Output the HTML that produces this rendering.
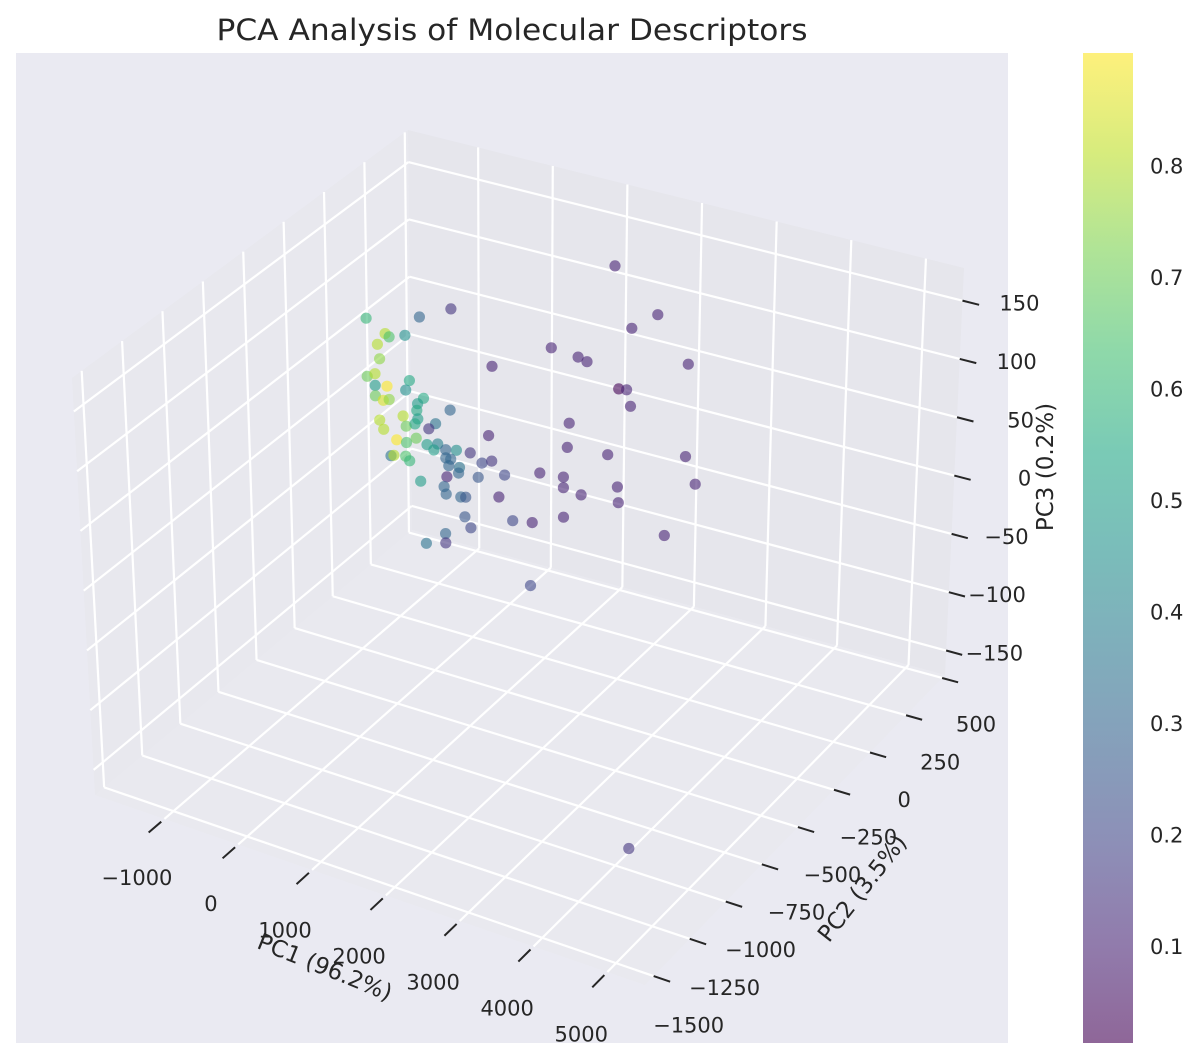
<!DOCTYPE html>
<html><head><meta charset="utf-8"><style>
html,body{margin:0;padding:0;background:#fff;}
svg{display:block;font-family:"DejaVu Sans","Liberation Sans",sans-serif;}
</style></head><body>
<svg id="chart" width="1200" height="1061" viewBox="0 0 1200 1061" xmlns="http://www.w3.org/2000/svg">
<rect x="0" y="0" width="1200" height="1061" fill="#ffffff"/>
<rect x="16" y="53" width="992" height="990" fill="#eaeaf2"/>
<text x="512" y="40" text-anchor="middle" font-size="29" fill="#262626" textLength="591" lengthAdjust="spacingAndGlyphs">PCA Analysis of Molecular Descriptors</text>
<g id="panes"></g>
<g id="grid"></g>
<g id="ticks"></g>
<g id="points"></g>
<g id="cbar"></g>
<text x="325" y="975" text-anchor="middle" font-size="23" fill="#262626" transform="rotate(22 325 967)">PC1 (96.2%)</text>
<text x="862" y="896" text-anchor="middle" font-size="23" fill="#262626" transform="rotate(-52 862 888)">PC2 (3.5%)</text>
<text x="1045" y="475" text-anchor="middle" font-size="23" fill="#262626" transform="rotate(-90 1045 467)">PC3 (0.2%)</text>
</svg>
<script>
const pc1Values = [-1404,-680,-252,-1149,-1096,-881,-1257,-1230,-1404,-1297,-1297,-1136,-828,-881,-1297,-1190,-1109,-640,-721,-278,-734,-721,-1243,-922,-881,-761,-479,-573,-1190,-1015,-881,-747,-600,-453,-506,-345,-198,-10,244,-1096,-1056,-895,-841,-345,-278,150,284,-158,-305,-171,-332,97,459,-694,-372,-345,-144,-77,378,-91,-10,-359,-627,-359,566,834,807,941,1263,1263,1504,1263,1316,1343,298,1102,1464,1584,1866,2000,2013,2013,2120,2174,2187,2536,2951,2924,3058,2643,1959,2174];
const pc2Values = [0,0,0,0,0,0,0,0,0,0,0,0,0,0,0,0,0,0,0,0,0,0,0,0,0,0,0,0,0,0,0,0,0,0,0,0,0,0,0,0,0,0,0,0,0,0,0,0,0,0,0,0,0,0,0,0,0,0,0,0,0,0,0,0,0,0,0,0,0,0,0,0,0,0,0,0,0,0,0,0,0,0,0,0,0,0,0,0,0,0,0,0];
const pc3Values = [78,91,105,69,67,72,58,46,28,32,22,24,34,25,13,11,13,22,16,18,10,3,-7,2,-6,-2,3,-3,-14,-20,-20,-14,-17,-14,-20,-17,-15,-14,5,-35,-34,-32,-35,-24,-24,-20,-16,-29,-30,-34,-40,-33,-25,-50,-49,-55,-54,-53,-45,-70,-78,-89,-102,-97,-62,-59,-113,-15,-13,-22,-24,-47,13,34,65,94,92,90,16,-9,-22,74,75,62,128,145,110,32,11,-39,177,-311];
const colorValues = [0.6,0.3,0.15,0.8,0.65,0.45,0.8,0.75,0.7,0.8,0.5,0.9,0.55,0.45,0.7,0.85,0.75,0.55,0.5,0.3,0.55,0.5,0.8,0.8,0.7,0.55,0.35,0.15,0.8,0.9,0.65,0.7,0.5,0.4,0.5,0.3,0.45,0.15,0.1,0.35,0.8,0.65,0.6,0.3,0.3,0.2,0.15,0.35,0.3,0.3,0.1,0.25,0.2,0.5,0.3,0.3,0.3,0.25,0.1,0.25,0.2,0.3,0.35,0.15,0.2,0.1,0.2,0.1,0.1,0.1,0.1,0.1,0.1,0.1,0.1,0.1,0.1,0.1,0.1,0.1,0.1,0.02,0.1,0.1,0.1,0.1,0.1,0.1,0.1,0.1,0.1,0.15];
const pc1Ticks = [-1000,0,1000,2000,3000,4000,5000];
const pc2Ticks = [500,250,0,-250,-500,-750,-1000,-1250,-1500];
const pc3Ticks = [150,100,50,0,-50,-100,-150];
const cbarTicks = [0.1,0.2,0.3,0.4,0.5,0.6,0.7,0.8];
const pc1Range = [-1940,5510];
const pc2Range = [-1560,520];
const pc3Range = [-171,178];
const colorRange = [0.013,0.901];

const NS='http://www.w3.org/2000/svg';
const C={'000':[408,130],'100':[964,268],'010':[72,378],'110':[628,520],
         '001':[412,530],'101':[945,675],'011':[95,795],'111':[645,985]};
function tri(u,v,w){
  let x=0,y=0;
  for(const a of [0,1])for(const b of [0,1])for(const c of [0,1]){
    const k=(a?u:1-u)*(b?v:1-v)*(c?w:1-w);const p=C[''+a+b+c];x+=k*p[0];y+=k*p[1];}
  return [x,y];
}
function uOf(p1){return (p1-pc1Range[0])/(pc1Range[1]-pc1Range[0]);}
function vOf(p2){return (pc2Range[1]-p2)/(pc2Range[1]-pc2Range[0]);}
function wOf(p3){return (pc3Range[1]-p3)/(pc3Range[1]-pc3Range[0]);}
function proj(p1,p2,p3){return tri(uOf(p1),vOf(p2),wOf(p3));}

const VIR=[[68,1,84],[72,36,117],[65,68,135],[53,95,141],[42,120,142],[33,145,140],[34,168,132],[68,191,112],[122,209,81],[189,223,38],[253,231,37]];
function viridis(t){t=Math.max(0,Math.min(1,t));const s=t*10;const i=Math.min(9,Math.floor(s));const f=s-i;
  const c=VIR[i].map((v,k)=>Math.round(v+(VIR[i+1][k]-v)*f));return 'rgb('+c.join(',')+')';}
function cNorm(c){return (c-colorRange[0])/(colorRange[1]-colorRange[0]);}

function mk(tag,attrs,parent){const e=document.createElementNS(NS,tag);for(const k in attrs)e.setAttribute(k,attrs[k]);parent.appendChild(e);return e;}
function poly(pts){return pts.map(p=>p[0].toFixed(1)+','+p[1].toFixed(1)).join(' ');}

const panes=document.getElementById('panes');
let e;
e=mk('polygon',{points:poly([tri(0,0,0),tri(1,0,0),tri(1,0,1),tri(0,0,1)]),fill:'#e6e6ec'},panes);


e=mk('polygon',{points:poly([tri(0,0,0),tri(0,1,0),tri(0,1,1),tri(0,0,1)]),fill:'#e8e8ee'},panes);


e=mk('polygon',{points:poly([tri(0,0,1),tri(1,0,1),tri(1,1,1),tri(0,1,1)]),fill:'#e9e9ef'},panes);



const grid=document.getElementById('grid');
function gl(a,b,name){const l=mk('line',{x1:a[0],y1:a[1],x2:b[0],y2:b[1],stroke:'#ffffff','stroke-width':2.2},grid);
  
  }
pc1Ticks.forEach(t=>{const u=uOf(t);gl(tri(u,0,0),tri(u,0,1),'grid-pc1-back');gl(tri(u,0,1),tri(u,1,1),'grid-pc1-floor');});
pc2Ticks.forEach(t=>{const v=vOf(t);gl(tri(0,v,0),tri(0,v,1),'grid-pc2-side');gl(tri(0,v,1),tri(1,v,1),'grid-pc2-floor');});
pc3Ticks.forEach(t=>{const w=wOf(t);gl(tri(0,0,w),tri(1,0,w),'grid-pc3-back');gl(tri(0,0,w),tri(0,1,w),'grid-pc3-side');});

const tk=document.getElementById('ticks');
function tickLine(a,b,name){const l=mk('line',{x1:a[0],y1:a[1],x2:b[0],y2:b[1],stroke:'#262626','stroke-width':2},tk);
  
  }
function lbl(x,y,txt,anchor,name){const t=mk('text',{x:x,y:y,'text-anchor':anchor,'font-size':21,fill:'#262626'},tk);
  t.textContent=txt.replace('-','\u2212');
  
  }
pc1Ticks.forEach(t=>{const u=uOf(t);tickLine(tri(u,1.01,1),tri(u,1.05,1),'pc1-tick');
  const p=tri(u,1.1,1);lbl(p[0]+4,p[1]+39,String(t),'middle','pc1-tick-label');});
pc2Ticks.forEach(t=>{const v=vOf(t);tickLine(tri(1.0,v,1),tri(1.03,v,1),'pc2-tick');
  const p=tri(1.06,v,1);lbl(p[0]+2,p[1]+45,String(t),'middle','pc2-tick-label');});
pc3Ticks.forEach(t=>{const w=wOf(t);tickLine(tri(1.0,0,w),tri(1.03,0,w),'pc3-tick');
  const p=tri(1,0,w);lbl(p[0]+77,p[1]+10,String(t),'end','pc3-tick-label');});

const pts=document.getElementById('points');
pc1Values.forEach((v,i)=>{const p=proj(v,pc2Values[i],pc3Values[i]);
  const c=mk('circle',{cx:p[0].toFixed(1),cy:p[1].toFixed(1),r:5.6,fill:viridis(cNorm(colorValues[i])),'fill-opacity':0.6},pts);
  
  });

const cb=document.getElementById('cbar');
const cbX=1083,cbW=50,cbTop=53,cbBot=1043;
function cbY(v){return cbBot-(v-colorRange[0])/(colorRange[1]-colorRange[0])*(cbBot-cbTop);}
const defs=mk('defs',{},cb);
const lg=mk('linearGradient',{id:'vg',x1:0,y1:1,x2:0,y2:0},defs);
for(let i=0;i<=20;i++){mk('stop',{offset:(i/20),'stop-color':viridis(i/20),'stop-opacity':0.6},lg);}
e=mk('rect',{x:cbX,y:cbTop,width:cbW,height:cbBot-cbTop,fill:'url(#vg)'},cb);


cbarTicks.forEach(t=>{const y=cbY(t);const tx=mk('text',{x:1150,y:y+8,'font-size':21,fill:'#262626'},cb);
  tx.textContent=t.toFixed(1);
  
  });
</script>
</body></html>
